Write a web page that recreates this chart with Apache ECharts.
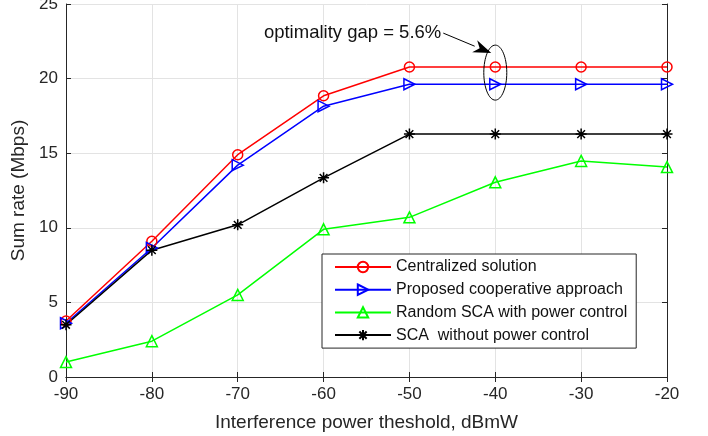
<!DOCTYPE html>
<html>
<head>
<meta charset="utf-8">
<script src="https://cdn.jsdelivr.net/npm/echarts@6/dist/echarts.min.js"></script>
<style>
  html, body { margin: 0; padding: 0; background: #fff; }
  #chart { width: 708px; height: 436px; }
</style>
</head>
<body>
<div id="chart"></div>
<script>
// thresholds in dBmW
const thresholds = [-90, -80, -70, -60, -50, -40, -30, -20];

// sum rate (Mbps) per scheme
const centralized = [3.75, 9.1, 14.9, 18.85, 20.78, 20.78, 20.78, 20.78];
const proposed = [3.6, 8.65, 14.2, 18.15, 19.62, 19.62, 19.62, 19.62];
const randomSca = [1.0, 2.4, 5.5, 9.9, 10.7, 13.05, 14.48, 14.07];
const scaNoPc = [3.5, 8.5, 10.2, 13.35, 16.28, 16.28, 16.28, 16.28];

const gapLabel = "optimality gap = 5.6%";
const gapAt = -40;

const FONT = "Liberation Sans, Arial, sans-serif";
const AXIS = "#262626";

const pairs = (ys) => thresholds.map((x, i) => [x, ys[i]]);

const mkSeries = (name, data, color, symbol, size) => ({
  name,
  type: "line",
  data: pairs(data),
  symbol,
  symbolSize: size,
  lineStyle: { color, width: 1.5 },
  itemStyle: { color: "transparent", borderColor: color, borderWidth: 1.5 },
  emphasis: { disabled: true },
  z: 3,
});

const chart = echarts.init(document.getElementById("chart"), null, { renderer: "canvas" });

const sideAxis = {
  axisLine: { show: true, lineStyle: { color: AXIS, width: 1 } },
  axisTick: { show: true, inside: true, length: 5, lineStyle: { color: AXIS } },
  axisLabel: { show: false },
  splitLine: { show: false },
};

chart.setOption({
  animation: false,
  grid: { left: 66, right: 41, top: 4, bottom: 59, outerBoundsMode: "none", containLabel: false },
  xAxis: [
    {
      type: "value", min: -90, max: -20, interval: 10,
      name: "Interference power theshold, dBmW",
      nameLocation: "middle", nameGap: 36,
      nameTextStyle: { color: AXIS, fontSize: 19, fontFamily: FONT },
      axisLine: { lineStyle: { color: AXIS } },
      axisTick: { inside: true, length: 5, lineStyle: { color: AXIS } },
      axisLabel: { color: AXIS, fontSize: 17, fontFamily: FONT, margin: 9 },
      splitLine: { show: true, lineStyle: { color: "#e3e3e3", width: 1 } },
    },
    { type: "value", position: "top", min: -90, max: -20, interval: 10, ...sideAxis },
  ],
  yAxis: [
    {
      type: "value", min: 0, max: 25, interval: 5,
      name: "Sum rate (Mbps)",
      nameLocation: "middle", nameGap: 24,
      nameTextStyle: { color: AXIS, fontSize: 19, fontFamily: FONT },
      axisLine: { show: true, lineStyle: { color: AXIS } },
      axisTick: { show: true, inside: true, length: 5, lineStyle: { color: AXIS } },
      axisLabel: { color: AXIS, fontSize: 17, fontFamily: FONT, margin: 8 },
      splitLine: { show: true, lineStyle: { color: "#e3e3e3", width: 1 } },
    },
    { type: "value", position: "right", min: 0, max: 25, interval: 5, ...sideAxis },
  ],
  legend: {
    orient: "vertical",
    left: 322, top: 254,
    padding: [5, 9, 5, 12],
    itemGap: 6.7,
    itemWidth: 56, itemHeight: 13,
    backgroundColor: "#fff",
    borderColor: AXIS, borderWidth: 1, borderRadius: 0,
    textStyle: { color: "#111", fontSize: 16, fontFamily: FONT },
    data: ["Centralized solution", "Proposed cooperative approach",
      "Random SCA with power control", "SCA  without power control"],
  },
  series: [
    mkSeries("Centralized solution", centralized, "#ff0000", "circle", 10),
    mkSeries("Proposed cooperative approach", proposed, "#0000ff", "path://M0,0L10,5L0,10Z", 11),
    mkSeries("Random SCA with power control", randomSca, "#00ff00", "path://M5,0L10,9L0,9Z", 11),
    mkSeries("SCA  without power control", scaNoPc, "#000000",
      "path://M5,0L5,10M0,5L10,5M1.5,1.5L8.5,8.5M1.5,8.5L8.5,1.5", 11),
  ],
});

// annotation: ellipse around the gap at -40 dBmW, plus arrow and label
const pTop = chart.convertToPixel({ xAxisIndex: 0, yAxisIndex: 0 }, [gapAt, centralized[5]]);
const pBot = chart.convertToPixel({ xAxisIndex: 0, yAxisIndex: 0 }, [gapAt, proposed[5]]);
const cx = pTop[0], cy = (pTop[1] + pBot[1]) / 2 - 3;
const ry = 27.5, rx = 11.5;
const tipX = cx - 4, tipY = cy - 19.5;
const startX = cx - 52, startY = cy - 39.5;
const ang = Math.atan2(tipY - startY, tipX - startX);
const hl = 18, hw = 6.5;
const bx = tipX - hl * Math.cos(ang), by = tipY - hl * Math.sin(ang);
const nx = -Math.sin(ang) * hw, ny = Math.cos(ang) * hw;

chart.setOption({
  graphic: [
    { type: "ellipse", shape: { cx, cy, rx, ry }, style: { fill: "none", stroke: "#000", lineWidth: 1 }, z: 10 },
    { type: "line", shape: { x1: startX, y1: startY, x2: bx, y2: by }, style: { stroke: "#000", lineWidth: 1 }, z: 10 },
    { type: "polygon", shape: { points: [[tipX, tipY], [bx + nx, by + ny], [bx + (tipX - bx) * 0.3, by + (tipY - by) * 0.3], [bx - nx, by - ny]] },
      style: { fill: "#000" }, z: 10 },
    { type: "text", x: startX - 2, y: startY, style: { text: gapLabel, fill: "#111", fontSize: 18.5, fontFamily: FONT, align: "right", verticalAlign: "middle" }, z: 10 },
  ],
});
</script>
</body>
</html>
